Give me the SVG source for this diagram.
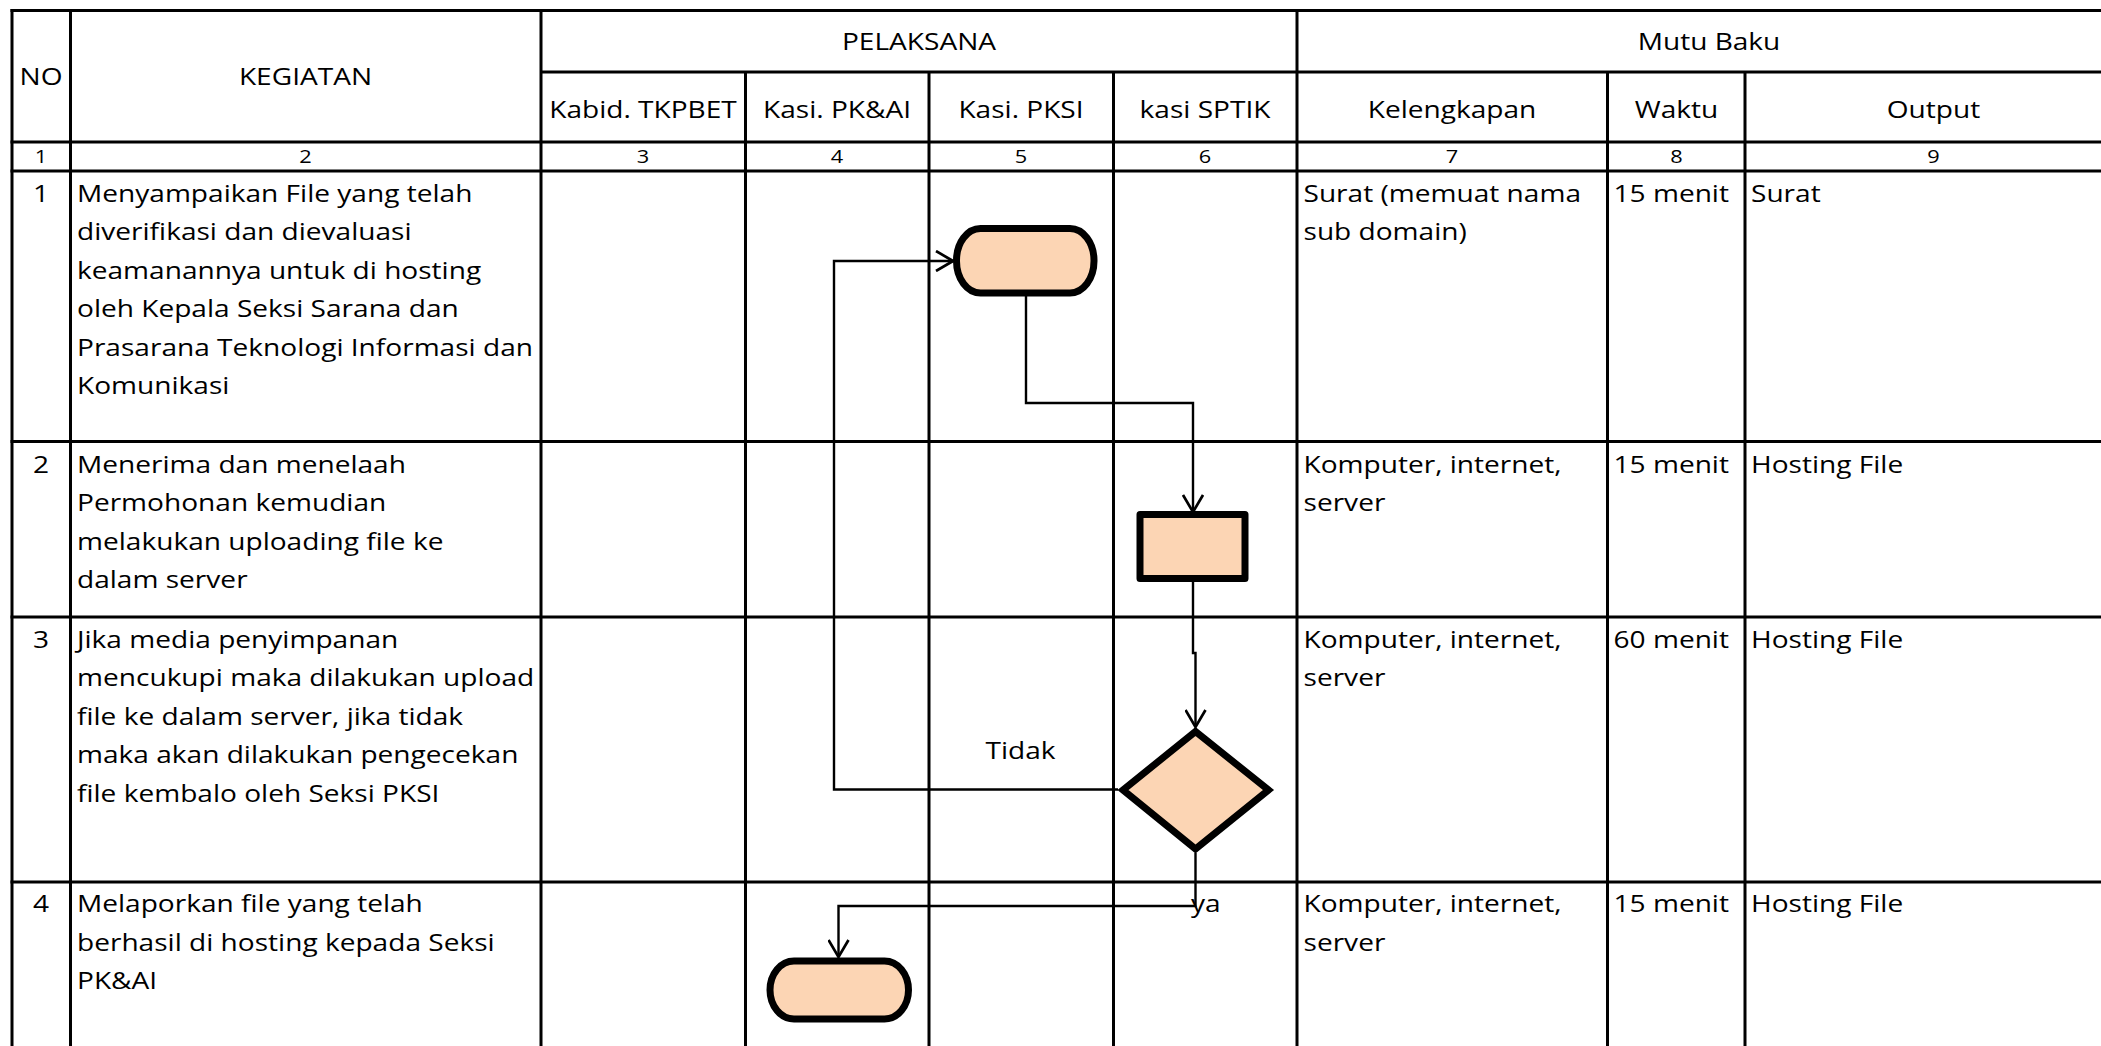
<svg xmlns="http://www.w3.org/2000/svg" width="2101" height="1046" viewBox="0 0 2101 1046">
<style>
.grid line{stroke:#000;stroke-width:3;}
text{font-family:"Open Sans","Liberation Sans",Arial,sans-serif;font-size:23.2px;fill:#000;}
.c{text-anchor:middle;}
.num{font-size:18px;}
.shape{fill:#FCD5B4;stroke:#000;stroke-width:7;stroke-linejoin:round;}
.conn path{fill:none;stroke:#000;stroke-width:2.4;}
</style>
<defs>
<marker id="arr" markerUnits="userSpaceOnUse" viewBox="0 0 20 22" markerWidth="20" markerHeight="22" refX="18" refY="11" orient="auto">
<path d="M1,1 L18,11 L1,21" fill="none" stroke="#000" stroke-width="2.7"/>
</marker>
</defs>
<rect x="0" y="0" width="2101" height="1046" fill="#fff"/>
<g id="grid" class="grid">
<line x1="10.5" y1="10.5" x2="2101" y2="10.5"/>
<line x1="541" y1="72" x2="2101" y2="72"/>
<line x1="10.5" y1="142" x2="2101" y2="142"/>
<line x1="10.5" y1="171" x2="2101" y2="171"/>
<line x1="10.5" y1="441.5" x2="2101" y2="441.5"/>
<line x1="10.5" y1="617" x2="2101" y2="617"/>
<line x1="10.5" y1="882" x2="2101" y2="882"/>
<line x1="12" y1="9" x2="12" y2="1046"/>
<line x1="70.5" y1="9" x2="70.5" y2="1046"/>
<line x1="541" y1="9" x2="541" y2="1046"/>
<line x1="745.5" y1="72" x2="745.5" y2="1046"/>
<line x1="929" y1="72" x2="929" y2="1046"/>
<line x1="1113.5" y1="72" x2="1113.5" y2="1046"/>
<line x1="1297" y1="9" x2="1297" y2="1046"/>
<line x1="1607.5" y1="72" x2="1607.5" y2="1046"/>
<line x1="1745" y1="72" x2="1745" y2="1046"/>
</g>
<g id="headers">
<text class="c" transform="translate(41,85) scale(1.21,1)">NO</text>
<text class="c" transform="translate(305.5,85) scale(1.21,1)">KEGIATAN</text>
<text class="c" transform="translate(919,50) scale(1.21,1)">PELAKSANA</text>
<text class="c" transform="translate(1709,50) scale(1.21,1)">Mutu Baku</text>
<text class="c" transform="translate(643,118) scale(1.21,1)">Kabid. TKPBET</text>
<text class="c" transform="translate(837,118) scale(1.21,1)">Kasi. PK&amp;AI</text>
<text class="c" transform="translate(1021,118) scale(1.21,1)">Kasi. PKSI</text>
<text class="c" transform="translate(1205,118) scale(1.21,1)">kasi SPTIK</text>
<text class="c" transform="translate(1452,118) scale(1.21,1)">Kelengkapan</text>
<text class="c" transform="translate(1676.5,118) scale(1.21,1)">Waktu</text>
<text class="c" transform="translate(1933.5,118) scale(1.21,1)">Output</text>
</g>
<g id="colnums">
<text class="c num" transform="translate(41,163) scale(1.21,1)">1</text>
<text class="c num" transform="translate(305.5,163) scale(1.21,1)">2</text>
<text class="c num" transform="translate(643,163) scale(1.21,1)">3</text>
<text class="c num" transform="translate(837,163) scale(1.21,1)">4</text>
<text class="c num" transform="translate(1021,163) scale(1.21,1)">5</text>
<text class="c num" transform="translate(1205,163) scale(1.21,1)">6</text>
<text class="c num" transform="translate(1452,163) scale(1.21,1)">7</text>
<text class="c num" transform="translate(1676.5,163) scale(1.21,1)">8</text>
<text class="c num" transform="translate(1933.5,163) scale(1.21,1)">9</text>
</g>
<g id="row1">
<text class="c" transform="translate(41,201.5) scale(1.21,1)">1</text>
<text transform="translate(77,201.5) scale(1.21,1)"><tspan x="0" y="0">Menyampaikan File yang telah</tspan><tspan x="0" y="38.6">diverifikasi dan dievaluasi</tspan><tspan x="0" y="77.2">keamanannya untuk di hosting</tspan><tspan x="0" y="115.8">oleh Kepala Seksi Sarana dan</tspan><tspan x="0" y="154.4">Prasarana Teknologi Informasi dan</tspan><tspan x="0" y="193">Komunikasi</tspan></text>
<text transform="translate(1303.5,201.5) scale(1.21,1)"><tspan x="0" y="0">Surat (memuat nama</tspan><tspan x="0" y="38.6">sub domain)</tspan></text>
<text transform="translate(1613.5,201.5) scale(1.21,1)">15 menit</text>
<text transform="translate(1751,201.5) scale(1.21,1)">Surat</text>
</g>
<g id="row2">
<text class="c" transform="translate(41,472.5) scale(1.21,1)">2</text>
<text transform="translate(77,472.5) scale(1.21,1)"><tspan x="0" y="0">Menerima dan menelaah</tspan><tspan x="0" y="38.6">Permohonan kemudian</tspan><tspan x="0" y="77.2">melakukan uploading file ke</tspan><tspan x="0" y="115.8">dalam server</tspan></text>
<text transform="translate(1303.5,472.5) scale(1.21,1)"><tspan x="0" y="0">Komputer, internet,</tspan><tspan x="0" y="38.6">server</tspan></text>
<text transform="translate(1613.5,472.5) scale(1.21,1)">15 menit</text>
<text transform="translate(1751,472.5) scale(1.21,1)">Hosting File</text>
</g>
<g id="row3">
<text class="c" transform="translate(41,647.5) scale(1.21,1)">3</text>
<text transform="translate(77,647.5) scale(1.21,1)"><tspan x="0" y="0">Jika media penyimpanan</tspan><tspan x="0" y="38.6">mencukupi maka dilakukan upload</tspan><tspan x="0" y="77.2">file ke dalam server, jika tidak</tspan><tspan x="0" y="115.8">maka akan dilakukan pengecekan</tspan><tspan x="0" y="154.4">file kembalo oleh Seksi PKSI</tspan></text>
<text transform="translate(1303.5,647.5) scale(1.21,1)"><tspan x="0" y="0">Komputer, internet,</tspan><tspan x="0" y="38.6">server</tspan></text>
<text transform="translate(1613.5,647.5) scale(1.21,1)">60 menit</text>
<text transform="translate(1751,647.5) scale(1.21,1)">Hosting File</text>
</g>
<g id="row4">
<text class="c" transform="translate(41,912) scale(1.21,1)">4</text>
<text transform="translate(77,912) scale(1.21,1)"><tspan x="0" y="0">Melaporkan file yang telah</tspan><tspan x="0" y="38.6">berhasil di hosting kepada Seksi</tspan><tspan x="0" y="77.2">PK&amp;AI</tspan></text>
<text transform="translate(1303.5,912) scale(1.21,1)"><tspan x="0" y="0">Komputer, internet,</tspan><tspan x="0" y="38.6">server</tspan></text>
<text transform="translate(1613.5,912) scale(1.21,1)">15 menit</text>
<text transform="translate(1751,912) scale(1.21,1)">Hosting File</text>
</g>
<g id="start">
<rect class="shape" x="956.5" y="228.5" width="137.5" height="64.5" rx="24" ry="32"/>
</g>
<g id="process">
<rect class="shape" x="1140" y="514.5" width="105" height="64"/>
</g>
<g id="decision">
<polygon class="shape" points="1195.5,731.5 1268.5,790 1195.5,849 1123,790" style="stroke-linejoin:miter"/>
</g>
<g id="end">
<rect class="shape" x="770" y="961" width="138.5" height="58" rx="24" ry="29"/>
</g>
<g id="connectors" class="conn">
<path d="M1118,789.5 H834 V261 H953" marker-end="url(#arr)"/>
<path d="M1026,296 V403 H1193 V512" marker-end="url(#arr)"/>
<path d="M1193,581 V653 H1195.5 V727" marker-end="url(#arr)"/>
<path d="M1195.5,853 V906 H838.5 V957" marker-end="url(#arr)"/>
</g>
<g id="labels">
<text transform="translate(985.5,758.5) scale(1.21,1)">Tidak</text>
<text transform="translate(1191,911.5) scale(1.21,1)">ya</text>
</g>
</svg>
